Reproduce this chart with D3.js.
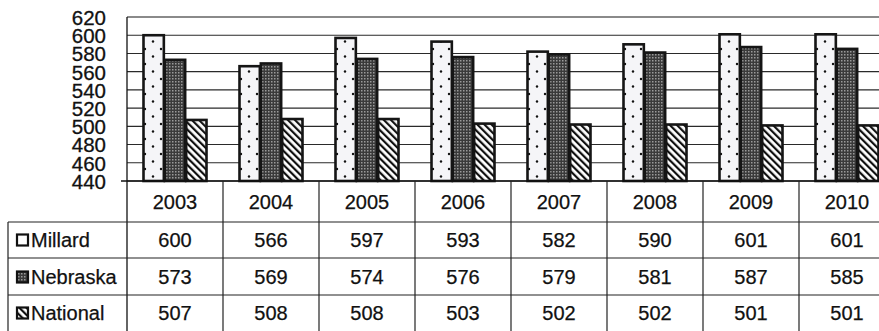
<!DOCTYPE html>
<html>
<head>
<meta charset="utf-8">
<script src="https://cdn.jsdelivr.net/npm/d3@7/dist/d3.min.js"></script>
<style>
  html, body { margin: 0; padding: 0; background: #fff; }
  svg { display: block; font-family: "Liberation Sans", Arial, sans-serif; }
</style>
</head>
<body>
<svg id="chart" width="879" height="331"></svg>
<script>
const years = ["2003", "2004", "2005", "2006", "2007", "2008", "2009", "2010"];
const seriesNames = ["Millard", "Nebraska", "National"];
const millard = [600, 566, 597, 593, 582, 590, 601, 601];
const nebraska = [573, 569, 574, 576, 579, 581, 587, 585];
const national = [507, 508, 508, 503, 502, 502, 501, 501];
const yTicks = [440, 460, 480, 500, 520, 540, 560, 580, 600, 620];
const seriesValues = [millard, nebraska, national];

const svg = d3.select("#chart");
const defs = svg.append("defs");

// Patterns
const pM = defs.append("pattern").attr("id", "pMillard").attr("patternUnits", "userSpaceOnUse")
  .attr("width", 16).attr("height", 15);
pM.append("rect").attr("width", 16).attr("height", 15).attr("fill", "#f5f5f8");
pM.append("circle").attr("cx", 2).attr("cy", 4).attr("r", 1.2).attr("fill", "#111");
pM.append("circle").attr("cx", 10).attr("cy", 11.5).attr("r", 1.2).attr("fill", "#111");

const pN = defs.append("pattern").attr("id", "pNebraska").attr("patternUnits", "userSpaceOnUse")
  .attr("width", 3).attr("height", 3);
pN.append("rect").attr("width", 3).attr("height", 3).attr("fill", "#3a3a3a");
pN.append("rect").attr("x", 0).attr("y", 0).attr("width", 1.5).attr("height", 1.5).attr("fill", "#9a9a9a");

const pS = defs.append("pattern").attr("id", "pNational").attr("patternUnits", "userSpaceOnUse")
  .attr("width", 5).attr("height", 5).attr("patternTransform", "rotate(-45)");
pS.append("rect").attr("width", 5).attr("height", 5).attr("fill", "#fff");
pS.append("rect").attr("x", 0).attr("y", 0).attr("width", 2.2).attr("height", 5).attr("fill", "#111");

const fills = ["url(#pMillard)", "url(#pNebraska)", "url(#pNational)"];

// Scales
const x = d3.scaleBand().domain(years).range([127, 895]).paddingInner(0).paddingOuter(0);
const xs = d3.scaleBand().domain(seriesNames).range([16, 80]).padding(0);
const y = d3.scaleLinear().domain([440, 620]).range([181, 17]);

// Gridlines
svg.append("g").selectAll("line").data(yTicks).join("line")
  .attr("x1", 127).attr("x2", 879)
  .attr("y1", d => y(d)).attr("y2", d => y(d))
  .attr("stroke", d => d === 620 ? "#8a8a8a" : "#2a2a2a")
  .attr("stroke-width", d => d === 620 ? 2.2 : 1.1);

// Y axis labels
const yAxis = d3.axisLeft(y).tickValues(yTicks).tickSize(0).tickPadding(0).tickFormat(d3.format("d"));
const gy = svg.append("g").attr("transform", "translate(106,0)").call(yAxis);
gy.select(".domain").remove();
gy.selectAll("text").attr("font-size", 20.5).attr("fill", "#111")
  .attr("stroke", "#111").attr("stroke-width", 0.3)
  .attr("font-family", "'Liberation Sans', Arial, sans-serif").attr("dy", "0.36em");

// Y axis line
svg.append("line").attr("x1", 127).attr("x2", 127).attr("y1", y(620)).attr("y2", 331)
  .attr("stroke", "#111").attr("stroke-width", 1.3);

// Bars
const groups = svg.append("g").selectAll("g").data(years).join("g")
  .attr("transform", d => `translate(${x(d)},0)`);
groups.selectAll("rect").data((d, i) => seriesNames.map((s, k) => ({ s, k, v: seriesValues[k][i] })))
  .join("rect")
  .attr("x", d => xs(d.s) + 0.5)
  .attr("width", xs.bandwidth() - 1)
  .attr("y", d => y(d.v))
  .attr("height", d => y(440) - y(d.v))
  .attr("fill", d => fills[d.k])
  .attr("stroke", "#151515")
  .attr("stroke-width", 2.6);

// Bottom axis line
svg.append("line").attr("x1", 121).attr("x2", 879).attr("y1", 181).attr("y2", 181)
  .attr("stroke", "#111").attr("stroke-width", 1.6);

// Table
const rowLines = [222, 258, 295];
const table = svg.append("g");
table.selectAll("line.h").data(rowLines).join("line").attr("class", "h")
  .attr("x1", 8).attr("x2", 879).attr("y1", d => d).attr("y2", d => d)
  .attr("stroke", "#222").attr("stroke-width", 1.2);
table.append("line").attr("x1", 8).attr("x2", 8).attr("y1", 222).attr("y2", 331)
  .attr("stroke", "#222").attr("stroke-width", 1.2);
table.selectAll("line.v").data(years.slice(1)).join("line").attr("class", "v")
  .attr("x1", d => x(d)).attr("x2", d => x(d)).attr("y1", 181).attr("y2", 331)
  .attr("stroke", "#222").attr("stroke-width", 1.2);

const txtAttrs = sel => sel.attr("font-size", 20).attr("fill", "#111")
  .attr("stroke", "#111").attr("stroke-width", 0.25);

// Header years
table.selectAll("text.yr").data(years).join("text").attr("class", "yr")
  .attr("x", d => x(d) + x.bandwidth() / 2).attr("y", 202)
  .attr("dy", "0.36em").attr("text-anchor", "middle")
  .call(txtAttrs).text(d => d);

const rowCenters = [240, 277, 313];
seriesNames.forEach((s, k) => {
  const cy = rowCenters[k];
  table.append("rect").attr("x", 17).attr("y", cy - 5.5).attr("width", 11).attr("height", 11)
    .attr("fill", k === 0 ? "#fff" : (k === 1 ? "url(#pNebraska)" : "url(#pNational)"))
    .attr("stroke", "#111").attr("stroke-width", 2.2);
  table.append("text").attr("x", 31).attr("y", cy).attr("dy", "0.36em")
    .call(txtAttrs).text(s);
  table.selectAll(null).data(seriesValues[k]).join("text")
    .attr("x", (d, i) => x(years[i]) + x.bandwidth() / 2).attr("y", cy)
    .attr("dy", "0.36em").attr("text-anchor", "middle")
    .call(txtAttrs).text(d => d);
});
</script>
</body>
</html>
